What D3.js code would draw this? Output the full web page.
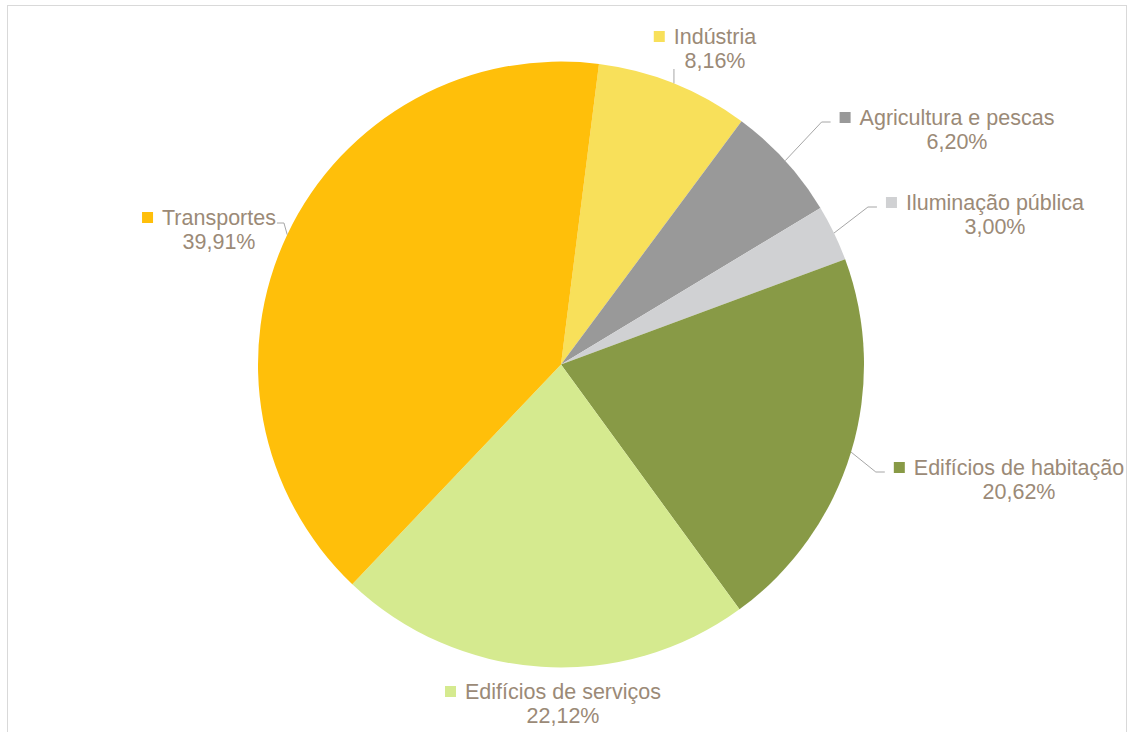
<!DOCTYPE html>
<html>
<head>
<meta charset="utf-8">
<script src="https://cdn.jsdelivr.net/npm/d3@7"></script>
<style>
  body { margin: 0; background: #fff; }
  svg { display: block; }
</style>
</head>
<body>
<div id="chart"></div>
<script>
// data
const sectors = ["Indústria", "Agricultura e pescas", "Iluminação pública",
                 "Edifícios de habitação", "Edifícios de serviços", "Transportes"];
const shares = [8.16, 6.20, 3.00, 20.62, 22.12, 39.91];
const sliceColors = ["#f8e05a", "#999999", "#d0d1d3", "#889a46", "#d5ea8f", "#ffbf0a"];

// label placement (text centre x, first baseline y) and leader side
const labelAt = [[715, 44], [957, 125], [995, 210], [1019, 475], [563, 699], [219, 225]];
const leaderSide = ["top", "right", "right", "right", "none", "left"];

const width = 1134;
const height = 732;
const cx = 561, cy = 364.5, radius = 303;
const startAngle = 7.2 * Math.PI / 180;

const svg = d3.select("#chart")
  .append("svg")
  .attr("width", width)
  .attr("height", height);

// chart area frame
svg.append("rect")
  .attr("x", 7.5)
  .attr("y", 5.5)
  .attr("width", 1119)
  .attr("height", 760)
  .attr("fill", "#fff")
  .attr("stroke", "#d9d9d9")
  .attr("stroke-width", 1);

const rows = sectors.map((s, i) => ({ name: s, value: shares[i], color: sliceColors[i], i }));

const pie = d3.pie()
  .value(d => d.value)
  .sort(null)
  .startAngle(startAngle)
  .endAngle(startAngle + 2 * Math.PI);

const arc = d3.arc().innerRadius(0).outerRadius(radius);
const arcs = pie(rows);

const g = svg.append("g").attr("transform", `translate(${cx},${cy})`);

g.selectAll("path.slice")
  .data(arcs)
  .join("path")
  .attr("class", "slice")
  .attr("d", arc)
  .attr("fill", d => d.data.color);

// labels
const fmt = v => v.toFixed(2).replace(".", ",") + "%";
const fontSize = 21.5;
const lineGap = 24;
const labelColor = "#9b8a77";

const labels = svg.append("g")
  .style("font-family", "'Liberation Sans', Arial, sans-serif")
  .style("font-size", fontSize + "px")
  .attr("fill", labelColor);

arcs.forEach(d => {
  const i = d.data.i;
  const [tx, ty] = labelAt[i];

  const t1 = labels.append("text")
    .attr("x", tx)
    .attr("y", ty)
    .attr("text-anchor", "middle")
    .text(d.data.name);
  labels.append("text")
    .attr("x", tx)
    .attr("y", ty + lineGap)
    .attr("text-anchor", "middle")
    .text(fmt(d.data.value));

  const w = t1.node().getComputedTextLength();
  const textLeft = tx - w / 2;
  const markerLeft = textLeft - 20;

  // legend key square
  labels.append("rect")
    .attr("x", markerLeft)
    .attr("y", ty - 13)
    .attr("width", 11)
    .attr("height", 11)
    .attr("fill", d.data.color);

  // leader line from slice edge
  const mid = (d.startAngle + d.endAngle) / 2;
  const ex = cx + radius * Math.sin(mid);
  const ey = cy - radius * Math.cos(mid);
  const side = leaderSide[i];
  let pts = null;
  if (side === "top") {
    pts = [[ex, ey], [ex, ty + lineGap + 1]];
  } else if (side === "right") {
    const hx = markerLeft - 9;
    pts = [[ex, ey], [hx - 9, ty - 3], [hx, ty - 3]];
  } else if (side === "left") {
    const hx = textLeft + w + 1;
    pts = [[ex, ey], [hx + 7, ty - 2], [hx, ty - 2]];
  }
  if (pts) {
    svg.append("path")
      .attr("d", d3.line()(pts))
      .attr("fill", "none")
      .attr("stroke", "#a6a6a6")
      .attr("stroke-width", 1);
  }
});
</script>
</body>
</html>
